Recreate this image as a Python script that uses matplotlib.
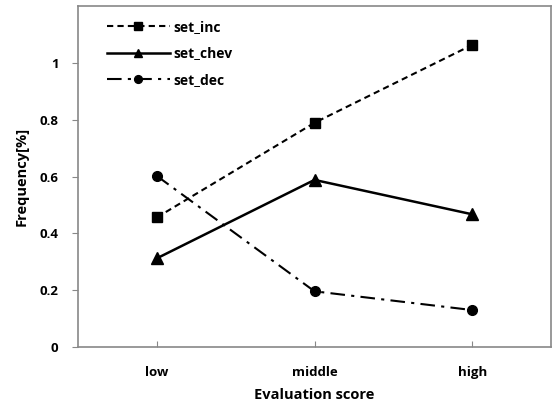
import matplotlib.pyplot as plt

categories = ['low', 'middle', 'high']
set_inc = [0.456, 0.789, 1.063]
set_chev = [0.312, 0.588, 0.467]
set_dec = [0.602, 0.196, 0.130]

plt.rcParams['font.family'] = ['Open Sans', 'DejaVu Sans']
plt.rcParams['font.weight'] = 'bold'

fig = plt.figure(figsize=(5.52, 4.03), dpi=100)
ax = fig.add_axes([78 / 552, 56 / 403, 473 / 552, 341 / 403])

x = range(len(categories))
ax.plot(x, set_inc, color='black', linestyle=(0, (3, 2)), linewidth=1.5,
        marker='s', markersize=7, label='set_inc')
ax.plot(x, set_chev, color='black', linestyle='-', linewidth=1.8,
        marker='^', markersize=8, label='set_chev')
ax.plot(x, set_dec, color='black', linestyle=(0, (7, 3, 1.5, 3)), linewidth=1.5,
        marker='o', markersize=7, label='set_dec')

ax.set_xlim(-0.5, 2.5)
ax.set_ylim(0, 1.2)
ax.set_yticks([0, 0.2, 0.4, 0.6, 0.8, 1.0])
ax.set_yticklabels(['0', '0.2', '0.4', '0.6', '0.8', '1'])
ax.set_xticks(list(x))
ax.set_xticklabels(categories)

for s in ax.spines.values():
    s.set_color('#888888')
    s.set_linewidth(1.2)
ax.tick_params(axis='y', direction='out', length=4, color='#888888', labelsize=9.5, pad=10)
ax.tick_params(axis='x', direction='in', length=4, color='#888888', labelsize=9.5, pad=14)

ax.set_xlabel('Evaluation score', fontsize=10.5, fontweight='bold', labelpad=6)
ax.set_ylabel('Frequency[%]', fontsize=10.5, fontweight='bold', labelpad=8)

leg = ax.legend(loc='upper left', frameon=False, fontsize=10, handlelength=4.5,
                handletextpad=0.3, labelspacing=0.9, borderaxespad=0.6,
                markerscale=0.8, bbox_to_anchor=(0.032, 1.0))

fig.savefig('out.png', dpi=100)
